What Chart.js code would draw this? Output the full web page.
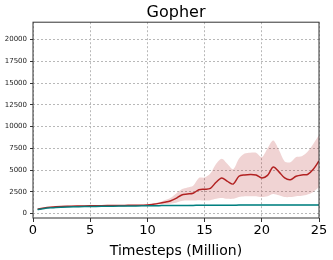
<!DOCTYPE html>
<html>
<head>
<meta charset="utf-8">
<script src="https://cdn.jsdelivr.net/npm/chart.js@4/dist/chart.umd.min.js"></script>
<style>
  html, body { margin: 0; padding: 0; background: #fff; }
  #wrap { width: 333px; height: 260px; }
</style>
</head>
<body>
<div id="wrap"><canvas id="chart"></canvas></div>
<script>
const steps = [0.4, 1, 1.5, 2, 3, 4, 5, 6, 7, 8, 9, 10, 10.5, 11, 11.5, 12, 12.5, 13, 13.5, 14,
    14.5, 15, 15.5, 16, 16.5, 17, 17.5, 18, 18.5, 19, 19.5, 20, 20.5, 21, 21.5, 22, 22.5, 23,
    23.5, 24, 24.5, 25];

const redMean = [520, 650, 730, 790, 850, 880, 900, 920, 940, 950, 960, 1000, 1080, 1180, 1300,
    1450, 1750, 2150, 2250, 2350, 2750, 2800, 2900, 3600, 4100, 3700, 3400, 4300, 4450, 4500,
    4450, 4100, 4400, 5350, 4800, 4100, 3900, 4300, 4450, 4500, 5100, 6050];
const redUpper = [560, 700, 780, 840, 900, 930, 960, 980, 1000, 1000, 1000, 1050, 1150, 1300, 1550,
    1800, 2300, 2800, 3000, 3200, 4100, 4150, 4600, 5700, 6300, 5700, 5100, 6300, 6900, 7000,
    7000, 6500, 7500, 8400, 7300, 6000, 5900, 6500, 6600, 7100, 8000, 9000];
const redLower = [480, 600, 680, 740, 800, 830, 850, 870, 890, 910, 920, 950, 1000, 1050, 1100,
    1150, 1250, 1450, 1500, 1500, 1550, 1500, 1550, 1700, 1800, 1700, 1700, 1900, 2000, 2000,
    2000, 1900, 2000, 2250, 2100, 1900, 1900, 2000, 2050, 2200, 2500, 3050];

const tealMean = [480, 600, 670, 720, 770, 800, 820, 840, 860, 880, 890, 910, 915, 920, 925,
    930, 935, 940, 945, 950, 955, 960, 960, 960, 965, 970, 975, 980, 985, 990,
    995, 1000, 1000, 1000, 1000, 1000, 1000, 1000, 1000, 1000, 1000, 1000];
const tealUpper = tealMean.map(v => v + 60);
const tealLower = tealMean.map(v => v - 60);

const xTicks = [0, 5, 10, 15, 20, 25];
const yTicks = [0, 2500, 5000, 7500, 10000, 12500, 15000, 17500, 20000];

const RED = "#b22222";
const RED_FILL = "rgba(178,34,34,0.2)";
const TEAL = "#008080";
const TEAL_FILL = "rgba(0,128,128,0.25)";

const pts = arr => arr.map((v, i) => ({ x: steps[i], y: v }));

function line(data, color, width, fill) {
    return {
        data: pts(data),
        borderColor: color,
        backgroundColor: fill || "transparent",
        borderWidth: width,
        pointRadius: 0,
        tension: 0.3,
        fill: fill ? "-1" : false,
    };
}

// matplotlib-style box around the axes
const frame = {
    id: "frame",
    afterDraw(chart) {
        const { ctx, chartArea: a } = chart;
        ctx.save();
        ctx.strokeStyle = "#333";
        ctx.lineWidth = 1;
        ctx.strokeRect(a.left, a.top, a.right - a.left, a.bottom - a.top);
        ctx.restore();
    },
};

new Chart(document.getElementById("chart"), {
    type: "line",
    data: {
        datasets: [
            line(redLower, "transparent", 0),
            line(redUpper, "transparent", 0, RED_FILL),
            line(tealLower, "transparent", 0),
            line(tealUpper, "transparent", 0, TEAL_FILL),
            line(tealMean, TEAL, 1.5),
            line(redMean, RED, 1.5),
        ],
    },
    options: {
        responsive: true,
        maintainAspectRatio: false,
        animation: false,
        layout: { padding: { left: 0, right: 14, top: 0, bottom: 0 } },
        plugins: {
            legend: { display: false },
            tooltip: { enabled: false },
            title: {
                display: true,
                text: "Gopher",
                fullSize: false,
                color: "#000",
                font: { family: "DejaVu Sans", size: 16, weight: "normal" },
                padding: { top: 3, bottom: 0 },
            },
        },
        scales: {
            x: {
                type: "linear",
                min: 0,
                max: 25,
                afterBuildTicks: s => { s.ticks = xTicks.map(v => ({ value: v })); },
                afterFit: s => { s.height = 42; },
                grid: { color: "#b8b8b8", tickColor: "#333", tickLength: 4, tickBorderDash: [] },
                border: { display: false, dash: [2, 2] },
                ticks: {
                    color: "#000",
                    padding: 1,
                    maxRotation: 0,
                    font: { family: "DejaVu Sans", size: 13 },
                },
                title: {
                    display: true,
                    text: "Timesteps (Million)",
                    color: "#000",
                    padding: { top: 0, bottom: 0 },
                    font: { family: "DejaVu Sans", size: 14 },
                },
            },
            y: {
                min: -500,
                max: 22000,
                afterBuildTicks: s => { s.ticks = yTicks.map(v => ({ value: v })); },
                afterFit: s => { s.width = 33; },
                grid: { color: "#b8b8b8", tickColor: "#333", tickLength: 3, tickBorderDash: [] },
                border: { display: false, dash: [2, 2] },
                ticks: {
                    color: "#222",
                    padding: 3,
                    callback: v => String(v),
                    font: { family: "DejaVu Sans", size: 7 },
                },
            },
        },
    },
    plugins: [frame],
});
</script>
</body>
</html>
